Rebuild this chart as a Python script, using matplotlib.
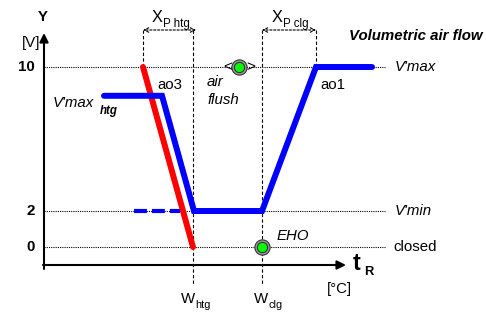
import numpy as np
import matplotlib
matplotlib.use("Agg")
import matplotlib.pyplot as plt

plt.rcParams['font.family'] = ['Liberation Sans', 'DejaVu Sans']

# volt levels
v_max = 10
v_min = 2
v_closed = 0
v_max_htg = 8.4

# positions along room temperature axis (arbitrary units)
x_start = 44
xp_htg_start = 143
w_htg = 193
w_clg = 262
xp_clg_end = 316

# control curves
ao1_x = [104, 162, 194, 262, 316, 372]
ao1_y = [v_max_htg, v_max_htg, v_min, v_min, v_max, v_max]
dash_x = [134, 180]
dash_y = [v_min, v_min]
ao3_x = [xp_htg_start, w_htg]
ao3_y = [v_max, v_closed]

# green indicator points
air_flush_pt = (239, v_max)
eho_pt = (w_clg, v_closed)

tick_vals = [10, 2, 0]
tick_labels = ['10', '2', '0']
level_labels = ["V'max", "V'min", "closed"]

fig = plt.figure(figsize=(4.86, 3.12), dpi=100)
ax = fig.add_axes([0, 0, 1, 1])
ax.set_xlim(0, 486)
ax.set_ylim(-65 / 18, 247 / 18)
ax.axis('off')

def vy(py):
    # pixel row -> volts
    return (247 - py) / 18

fs = 10.8

# dotted reference lines
for v in tick_vals:
    ax.plot([x_start, 385], [v, v], color='black', lw=0.8, ls=(0, (1, 1)), zorder=1)

# vertical dashed lines
ax.plot([xp_htg_start, xp_htg_start], [vy(30), v_max], color='black', lw=0.8, ls=(0, (3, 2)), zorder=1)
ax.plot([xp_clg_end, xp_clg_end], [vy(30), v_max], color='black', lw=0.8, ls=(0, (3, 2)), zorder=1)
ax.plot([w_htg, w_htg], [vy(30), vy(285)], color='black', lw=0.8, ls=(0, (3, 2)), zorder=1)
ax.plot([w_clg, w_clg], [vy(30), vy(285)], color='black', lw=0.8, ls=(0, (3, 2)), zorder=1)

# double arrows for proportional bands
for a, b in [(xp_htg_start, w_htg + 3), (w_clg, xp_clg_end)]:
    ax.annotate('', xy=(a, vy(30)), xytext=(b, vy(30)),
                arrowprops=dict(arrowstyle='<->', lw=0.8, ls=(0, (2, 1.5)), color='black',
                                shrinkA=0, shrinkB=0, mutation_scale=8))

# axes
ax.annotate('', xy=(x_start, vy(33)), xytext=(x_start, vy(269)),
            arrowprops=dict(arrowstyle='-|>', lw=1.5, color='black', shrinkA=0, shrinkB=0,
                            mutation_scale=13))
ax.annotate('', xy=(346, vy(265)), xytext=(x_start - 1, vy(265)),
            arrowprops=dict(arrowstyle='-|>', lw=1.5, color='black', shrinkA=0, shrinkB=0,
                            mutation_scale=13))

# curves
ax.plot(ao3_x, ao3_y, color='#ff0000', lw=4.3, solid_capstyle='round', zorder=3)
ax.plot(ao1_x, ao1_y, color='#0000ff', lw=4.3, solid_capstyle='round', solid_joinstyle='miter', zorder=4)
ax.plot(dash_x, dash_y, color='#0000ff', lw=3, ls=(0, (3.1, 1.2)), zorder=4)

# green points
for px, py in [air_flush_pt, eho_pt]:
    ax.scatter([px], [py], s=120, color='#a0a0a0', edgecolor='#303030', linewidth=0.8, zorder=5)
    ax.scatter([px], [py], s=55, color='#00ff00', edgecolor='#303030', linewidth=0.8, zorder=6)
ax.text(air_flush_pt[0] - 11, v_max, '<', fontsize=11, ha='center', va='center', zorder=5)
ax.text(air_flush_pt[0] + 12, v_max, '>', fontsize=11, ha='center', va='center', zorder=5)

# tick labels
for v, t in zip(tick_vals, tick_labels):
    ax.text(35, v, t, fontsize=fs, fontweight='bold', ha='right', va='center')

# level labels
ax.text(395, v_max, level_labels[0], fontsize=fs, style='italic', ha='left', va='center')
ax.text(395, v_min, level_labels[1], fontsize=fs, style='italic', ha='left', va='center')
ax.text(393, v_closed, level_labels[2], fontsize=fs, ha='left', va='center')

# other labels
ax.text(43, vy(17), 'Y', fontsize=fs, fontweight='bold', ha='center', va='center')
ax.text(31, vy(43), '[V]', fontsize=fs, ha='center', va='center')
ax.text(482, vy(36), 'Volumetric air flow', fontsize=fs, fontweight='bold', style='italic',
        ha='right', va='center')
ax.text(53, vy(103), "V'max", fontsize=fs, style='italic', ha='left', va='center')
ax.text(100, vy(111), 'htg', fontsize=fs - 2.5, fontweight='bold', style='italic', ha='left', va='center')
ax.text(157, vy(85), 'ao3', fontsize=fs, ha='left', va='center')
ax.text(320, vy(85), 'ao1', fontsize=fs, ha='left', va='center')
ax.text(207, vy(82), 'air', fontsize=fs, style='italic', ha='left', va='center')
ax.text(207, vy(100), 'flush', fontsize=fs, style='italic', ha='left', va='center')
ax.text(277, vy(236), 'EHO', fontsize=fs, style='italic', ha='left', va='center')

ax.text(152, vy(17), 'X', fontsize=fs + 1, ha='left', va='center')
ax.text(163, vy(24), 'P htg', fontsize=fs - 2.5, ha='left', va='center')
ax.text(272, vy(17), 'X', fontsize=fs + 1, ha='left', va='center')
ax.text(283, vy(24), 'P clg', fontsize=fs - 2.5, ha='left', va='center')

ax.text(181, vy(299), 'W', fontsize=fs, ha='left', va='center')
ax.text(195, vy(305), 'htg', fontsize=fs - 3, ha='left', va='center')
ax.text(254, vy(299), 'W', fontsize=fs, ha='left', va='center')
ax.text(268, vy(305), 'clg', fontsize=fs - 3, ha='left', va='center')

ax.text(353, vy(264), 't', fontsize=fs + 6, fontweight='bold', ha='left', va='center')
ax.text(364, vy(272), 'R', fontsize=fs - 1.5, fontweight='bold', ha='left', va='center')
ax.text(339, vy(289), '[°C]', fontsize=fs, ha='center', va='center')

fig.savefig('out.png', dpi=100)
